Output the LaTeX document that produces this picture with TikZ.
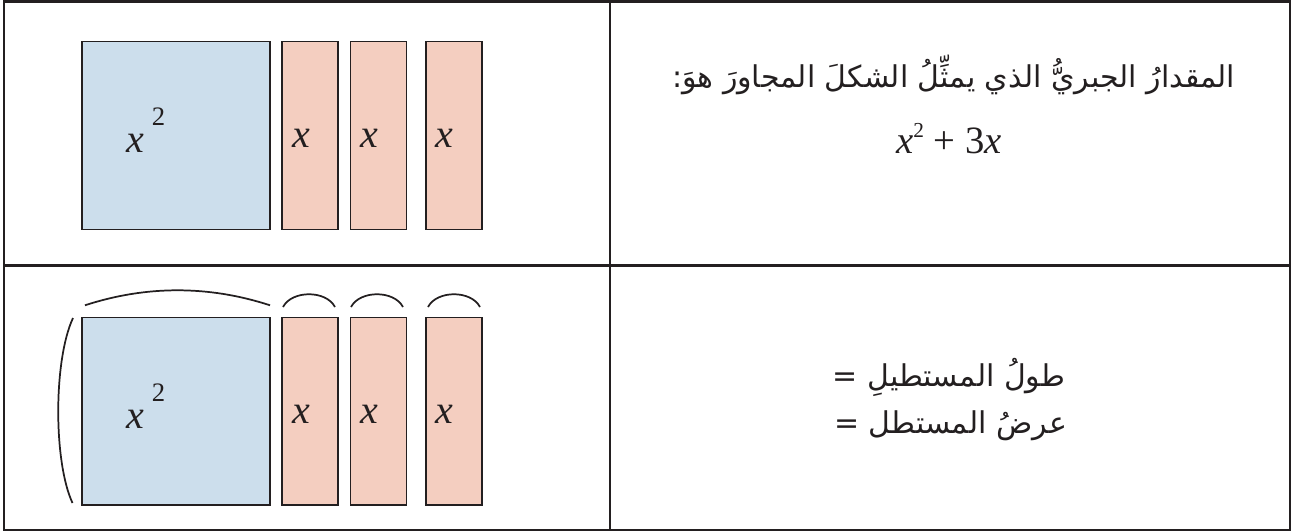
\documentclass[tikz,border=0pt]{standalone}
\usepackage{fontspec}
\setmainfont{Liberation Serif}
\newfontfamily\timesfont{Liberation Serif}
\newfontfamily\arabicfont[Script=Arabic]{DejaVu Sans}
\TeXXeTstate=1
\definecolor{tileblue}{RGB}{204,222,236}
\definecolor{tilepink}{RGB}{244,206,192}
\definecolor{ink}{RGB}{35,31,32}
\tikzset{
  frame/.style={draw=ink, line width=2pt},
  tile/.style={draw=ink, line width=1.1pt, inner sep=0pt, minimum height=140.7pt},
  sqtile/.style={tile, fill=tileblue, minimum width=141pt},
  rectile/.style={tile, fill=tilepink, minimum width=42pt},
  brace/.style={draw=ink, line width=1.3pt},
  varlabel/.style={inner sep=0pt, anchor=base, text=ink, font=\timesfont\fontsize{30}{36}\selectfont},
  explabel/.style={inner sep=0pt, anchor=base west, text=ink, font=\timesfont\fontsize{20}{24}\selectfont},
  artext/.style={inner sep=0pt, anchor=base, text=ink, font=\arabicfont\fontsize{22.5}{27}\selectfont},
  mathtext/.style={inner sep=0pt, anchor=base, text=ink, font=\timesfont\fontsize{29}{34}\selectfont}
}
\begin{document}
\begin{tikzpicture}[x=0.75pt, y=-0.75pt]
\useasboundingbox (0,0) rectangle (1297,532);
% table
\draw[frame] (4,1.5) rectangle (1290,530);
\draw[frame] (610,1.5) -- (610,530);
\draw[frame] (4,265.6) -- (1290,265.6);
% top row tiles
\node[sqtile] (sqA) at (176,135.5) {};
\node[rectile] (pA1) at (310,135.5) {};
\node[rectile] (pA2) at (378.25,135.5) {};
\node[rectile] (pA3) at (454,135.5) {};
\node[varlabel, anchor=base west] (xsqA) at (126,152) {\textit{x}};
\node[explabel] (twoA) at (151.5,125) {2};
\node[varlabel] (xA1) at (301.7,147) {\textit{x}};
\node[varlabel] (xA2) at (369.5,147) {\textit{x}};
\node[varlabel] (xA3) at (444.5,147) {\textit{x}};
% bottom row tiles
\node[sqtile] (sqB) at (176,411.4) {};
\node[rectile] (pB1) at (310,411.4) {};
\node[rectile] (pB2) at (378.25,411.4) {};
\node[rectile] (pB3) at (454,411.4) {};
\node[varlabel, anchor=base west] (xsqB) at (126,428) {\textit{x}};
\node[explabel] (twoB) at (151.5,401) {2};
\node[varlabel] (xB1) at (301.7,423) {\textit{x}};
\node[varlabel] (xB2) at (369.5,423) {\textit{x}};
\node[varlabel] (xB3) at (444.5,423) {\textit{x}};
% braces
\draw[brace] (85,305.3) .. controls (146,285.3) and (209,285.3) .. (270,305.3);
\draw[brace] (283,307) .. controls (292,290) and (326,290) .. (335,307);
\draw[brace] (351,307) .. controls (360,290) and (394,290) .. (403,307);
\draw[brace] (428,307) .. controls (437,290) and (471,290) .. (480,307);
\draw[brace] (73,318) .. controls (53.4,360) and (53.4,462) .. (72.5,503);
% texts
\node[artext] (qA) at (953.6,87) {\beginR المقدارُ الجبريُّ الذي يمثِّلُ الشكلَ المجاورَ هوَ:\endR};
\node[mathtext] (eqA) at (949,153) {\textit{x}\raisebox{0.4em}{\fontsize{16}{18}\selectfont 2} + 3\textit{x}};
\node[artext] (lenB) at (949,386) {\beginR طولُ المستطيلِ =\endR};
\node[artext] (widB) at (950.5,433) {\beginR عرضُ المستطل =\endR};
\end{tikzpicture}
\end{document}
